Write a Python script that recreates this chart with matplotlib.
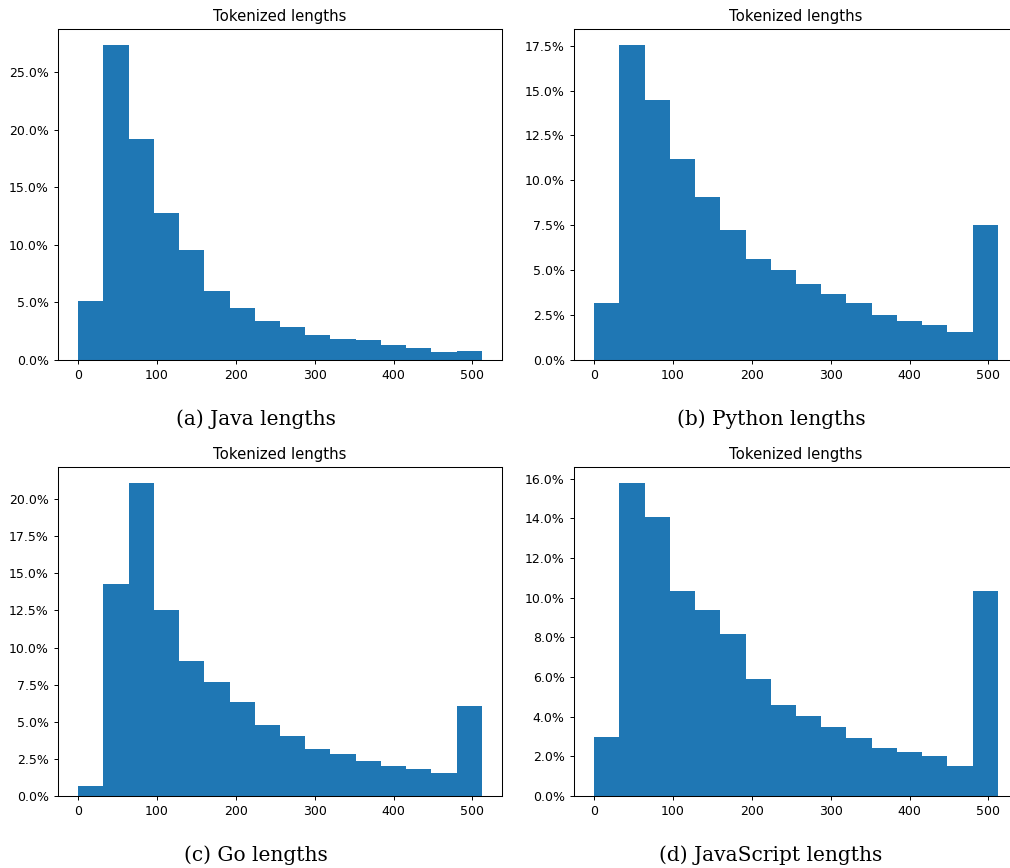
import numpy as np
import matplotlib
matplotlib.use("Agg")
import matplotlib.pyplot as plt
from matplotlib.ticker import PercentFormatter

# Bin edges (token lengths), 16 bins of width 32
bin_edges = list(range(0, 513, 32))

# Percent of samples per bin
java = [5.1, 27.4, 19.2, 12.8, 9.6, 6.0, 4.5, 3.4, 2.9, 2.2, 1.8, 1.7, 1.3, 1.0, 0.7, 0.75]
python = [3.15, 17.55, 14.45, 11.2, 9.1, 7.25, 5.6, 5.0, 4.25, 3.7, 3.2, 2.5, 2.15, 1.95, 1.55, 7.5]
go = [0.65, 14.3, 21.1, 12.5, 9.1, 7.7, 6.3, 4.75, 4.05, 3.15, 2.85, 2.35, 2.05, 1.8, 1.55, 6.05]
javascript = [3.0, 15.8, 14.05, 10.35, 9.4, 8.15, 5.9, 4.6, 4.05, 3.5, 2.9, 2.4, 2.2, 2.0, 1.5, 10.35]

title = "Tokenized lengths"
captions = ["(a) Java lengths", "(b) Python lengths", "(c) Go lengths", "(d) JavaScript lengths"]
series = [java, python, go, javascript]

W, H = 1010, 868
fig = plt.figure(figsize=(W / 100, H / 100), dpi=100)

# axes boxes in pixels: left, top, width, height
boxes = [(58, 29, 444, 331), (574, 29, 444, 331),
         (58, 467, 444, 329), (574, 467, 444, 329)]
caption_pos = [(256, 419), (771, 419), (256, 855), (771, 855)]

edges = np.array(bin_edges, dtype=float)
centers = (edges[:-1] + edges[1:]) / 2

for vals, (l, t, w, h), cap, (cx, cy) in zip(series, boxes, captions, caption_pos):
    ax = fig.add_axes([l / W, 1 - (t + h) / H, w / W, h / H])
    ax.hist(centers, bins=edges, weights=vals, color="#1f77b4")
    ax.yaxis.set_major_formatter(PercentFormatter(xmax=100, decimals=1))
    ax.tick_params(labelsize=9, length=3.2, width=0.7)
    ax.set_title(title, fontsize=10.7, pad=5.4)
    for s in ax.spines.values():
        s.set_linewidth(0.75)
    fig.text(cx / W, 1 - cy / H, cap, ha="center", va="center",
             fontsize=14.5, family="DejaVu Serif")

fig.savefig("out.png", dpi=100)
